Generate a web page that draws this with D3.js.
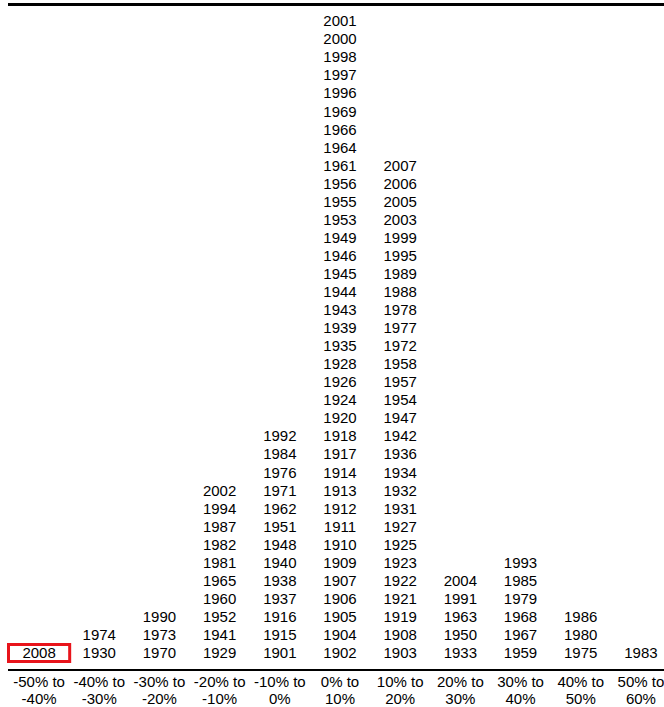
<!DOCTYPE html>
<html>
<head>
<meta charset="utf-8">
<script src="https://cdn.jsdelivr.net/npm/d3@7"></script>
<style>
  html, body { margin: 0; padding: 0; background: #fff; }
  svg { display: block; }
  .yr, .tick-label { font-family: Arial, "Liberation Sans", sans-serif; font-size: 15px; fill: #000; }
</style>
</head>
<body>
<svg id="chart" width="664" height="707"></svg>
<script>
'use strict';

// bin labels, two lines each
var binTop = ['-50% to', '-40% to', '-30% to', '-20% to', '-10% to', '0% to', '10% to', '20% to', '30% to', '40% to', '50% to'];
var binBottom = ['-40%', '-30%', '-20%', '-10%', '0%', '10%', '20%', '30%', '40%', '50%', '60%'];

// years in each bin, bottom to top
var bin0 = [2008];
var bin1 = [1930, 1974];
var bin2 = [1970, 1973, 1990];
var bin3 = [1929, 1941, 1952, 1960, 1965, 1981, 1982, 1987, 1994, 2002];
var bin4 = [1901, 1915, 1916, 1937, 1938, 1940, 1948, 1951, 1962, 1971, 1976, 1984, 1992];
var bin5 = [1902, 1904, 1905, 1906, 1907, 1909, 1910, 1911, 1912, 1913, 1914, 1917, 1918, 1920, 1924, 1926, 1928, 1935,
            1939, 1943, 1944, 1945, 1946, 1949, 1953, 1955, 1956, 1961, 1964, 1966, 1969, 1996, 1997, 1998, 2000, 2001];
var bin6 = [1903, 1908, 1919, 1921, 1922, 1923, 1925, 1927, 1931, 1932, 1934, 1936, 1942, 1947, 1954, 1957, 1958, 1972,
            1977, 1978, 1988, 1989, 1995, 1999, 2003, 2005, 2006, 2007];
var bin7 = [1933, 1950, 1963, 1991, 2004];
var bin8 = [1959, 1967, 1968, 1979, 1985, 1993];
var bin9 = [1975, 1980, 1986];
var bin10 = [1983];

var highlightYear = 2008;

var bins = [bin0, bin1, bin2, bin3, bin4, bin5, bin6, bin7, bin8, bin9, bin10];

var svg = d3.select('#chart');

var x = d3.scaleBand()
  .domain(d3.range(bins.length))
  .range([9, 671])
  .padding(0);

// row index -> text baseline
var y = d3.scaleLinear()
  .domain([0, 35])
  .range([658, 26.3]);

var cells = [];
bins.forEach(function (years, i) {
  years.forEach(function (yr, k) {
    cells.push({ bin: i, row: k, year: yr });
  });
});

// top and bottom rules
svg.append('line')
  .attr('x1', 8).attr('x2', 664)
  .attr('y1', 4.5).attr('y2', 4.5)
  .attr('stroke', '#000')
  .attr('stroke-width', 3);

svg.append('line')
  .attr('x1', 8).attr('x2', 664)
  .attr('y1', 670).attr('y2', 670)
  .attr('stroke', '#000')
  .attr('stroke-width', 2);

svg.append('g')
  .selectAll('text')
  .data(cells)
  .join('text')
    .attr('class', 'yr')
    .attr('x', function (d) { return x(d.bin) + x.bandwidth() / 2; })
    .attr('y', function (d) { return y(d.row); })
    .attr('text-anchor', 'middle')
    .text(function (d) { return d.year; });

// highlight box
var hi = cells.filter(function (d) { return d.year === highlightYear; });
svg.append('g')
  .selectAll('rect')
  .data(hi)
  .join('rect')
    .attr('x', function (d) { return x(d.bin) - 0.5; })
    .attr('y', function (d) { return y(d.row) - 13.5; })
    .attr('width', x.bandwidth() + 1)
    .attr('height', 17)
    .attr('fill', 'none')
    .attr('stroke', '#e8141b')
    .attr('stroke-width', 3);

// category labels
var labels = svg.append('g')
  .selectAll('g')
  .data(d3.range(bins.length))
  .join('g')
    .attr('transform', function (i) { return 'translate(' + (x(i) + x.bandwidth() / 2) + ',0)'; });

labels.append('text')
  .attr('class', 'tick-label')
  .attr('y', 687)
  .attr('text-anchor', 'middle')
  .text(function (i) { return binTop[i]; });

labels.append('text')
  .attr('class', 'tick-label')
  .attr('y', 703.5)
  .attr('text-anchor', 'middle')
  .text(function (i) { return binBottom[i]; });
</script>
</body>
</html>
